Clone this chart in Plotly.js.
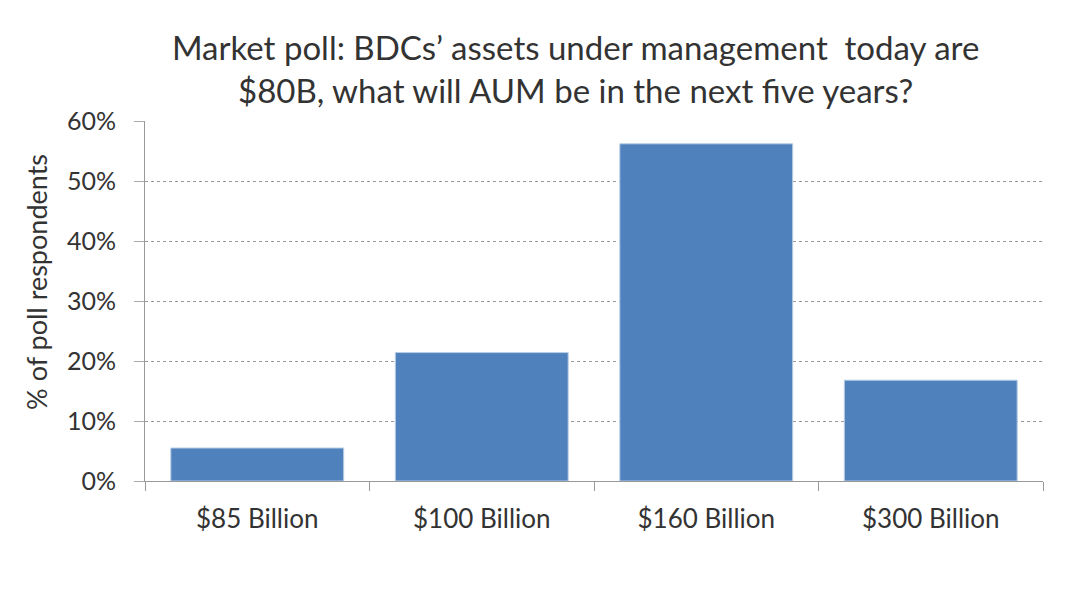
<!DOCTYPE html>
<html>
<head>
<meta charset="utf-8">
<script src="https://cdn.plot.ly/plotly-3.0.1.min.js"></script>
<style>
  html, body { margin: 0; padding: 0; background: #ffffff; }
  #chart { width: 1076px; height: 590px; }
</style>
</head>
<body>
<div id="chart"></div>
<script>
// poll answers, share of respondents (fraction)
var categories = ['$85 Billion', '$100 Billion', '$160 Billion', '$300 Billion'];
var respondents = [0.055, 0.214, 0.562, 0.168];
var yTicks = [0, 0.1, 0.2, 0.3, 0.4, 0.5, 0.6];
var yTickLabels = ['0%', '10%', '20%', '30%', '40%', '50%', '60%'];

var fontFamily = 'Lato, "Open Sans", sans-serif';
var textColor = '#333333';

var traces = [{
    x: categories,
    y: respondents,
    type: 'bar',
    marker: {
        color: '#4f81bd',
        line: { color: '#b9cde5', width: 1 }
    },
    hoverinfo: 'x+y'
}];

var layout = {
    width: 1076,
    height: 590,
    margin: { l: 145, r: 33, t: 121, b: 109 },
    paper_bgcolor: '#ffffff',
    plot_bgcolor: '#ffffff',
    showlegend: false,
    bargap: 0.23,
    font: { family: fontFamily, color: textColor },
    title: {
        text: 'Market poll: BDCs’ assets under management  today are<br>$80B, what will AUM be in the next five years?',
        font: { family: fontFamily, size: 33, color: textColor },
        x: 0.535,
        xanchor: 'center',
        y: 0.898,
        yanchor: 'top'
    },
    xaxis: {
        type: 'category',
        tickson: 'boundaries',
        ticks: 'outside',
        ticklen: 9,
        tickcolor: '#999999',
        showline: true,
        linecolor: '#999999',
        linewidth: 1,
        showgrid: false,
        tickfont: { family: fontFamily, size: 26, color: textColor },
        ticklabelstandoff: 15
    },
    yaxis: {
        range: [0, 0.6],
        tickvals: yTicks,
        ticktext: yTickLabels,
        ticks: 'outside',
        ticklen: 10,
        tickcolor: '#aaaaaa',
        showline: true,
        linecolor: '#999999',
        linewidth: 1,
        showgrid: true,
        gridcolor: '#999999',
        griddash: 'dot',
        gridwidth: 1,
        zeroline: false,
        tickfont: { family: fontFamily, size: 25, color: textColor },
        ticklabelstandoff: 13
    },
    // y-axis title sits a little above the plot middle in the original
    annotations: [{
        text: '% of poll respondents',
        textangle: -90,
        xref: 'paper',
        yref: 'paper',
        x: -0.1203,
        y: 0.553,
        xanchor: 'center',
        yanchor: 'middle',
        showarrow: false,
        font: { family: fontFamily, size: 27, color: textColor }
    }]
};

Plotly.newPlot('chart', traces, layout, { displayModeBar: false, staticPlot: true });
</script>
</body>
</html>
